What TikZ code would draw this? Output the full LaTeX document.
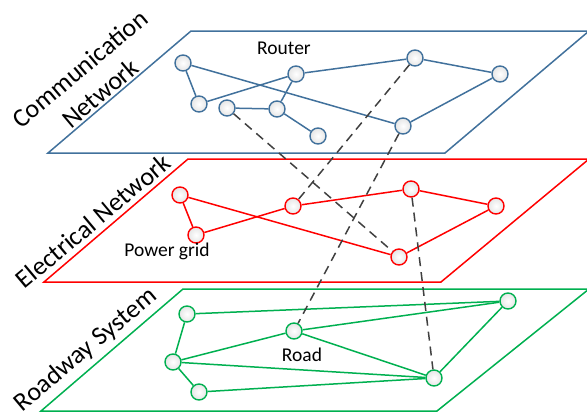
\documentclass[tikz,border=0pt]{standalone}
\usepackage{fontspec}
\setmainfont{Carlito}
\begin{document}
\begin{tikzpicture}[x=1pt,y=-1pt,
  plane/.style={line width=1.5pt},
  vtx/.style={circle,draw,line width=1.4pt,minimum size=16pt,inner sep=0pt,
    inner color=white,outer color=black!10},
  link/.style={line width=1.5pt},
  xlink/.style={draw=black!75,line width=1.5pt,dash pattern=on 9pt off 6pt},
  lbl/.style={font=\fontsize{19.5}{22}\selectfont,inner sep=0pt},
  layerlbl/.style={font=\fontsize{26}{32}\selectfont,rotate=40,align=center,inner sep=0pt}]
\definecolor{cblue}{HTML}{41719C}
\definecolor{cred}{HTML}{FF0000}
\definecolor{cgreen}{HTML}{00B050}
\useasboundingbox (0,0) rectangle (587,413);
\clip (0,0) rectangle (587,413);

% layer planes
\draw[plane,cblue]  (48,153) -- (445,153) -- (589,31) -- (191,31) -- cycle;
\draw[plane,cred]   (44,282) -- (441,282) -- (589,159) -- (188,159) -- cycle;
\draw[plane,cgreen] (41,411) -- (437,411) -- (589,289) -- (183,289) -- cycle;

% layer titles
\node[layerlbl] (tcomm) at (90,81) {Communication\\Network};
\node[layerlbl] (telec) at (93,221) {Electrical Network};
\node[layerlbl] (troad) at (86,350) {Roadway System};

% communication network
\begin{scope}[every node/.style={vtx,draw=cblue}]
\node (b1) at (183,63) {};
\node (b2) at (199,104) {};
\node (b3) at (227,108) {};
\node (b4) at (277,109) {};
\node (b5) at (296,74) {};
\node (b6) at (415,58) {};
\node (b7) at (500,74) {};
\node (b8) at (403,126) {};
\node (b9) at (318,136) {};
\end{scope}
\begin{scope}[link,cblue]
\draw (b1) -- (b2);
\draw (b1) -- (b8);
\draw (b2) -- (b5);
\draw (b3) -- (b4);
\draw (b4) -- (b5);
\draw (b4) -- (b9);
\draw (b5) -- (b6);
\draw (b6) -- (b7);
\draw (b7) -- (b8);
\end{scope}
\node[lbl] (router) at (284,48) {Router};

% electrical network
\begin{scope}[every node/.style={vtx,draw=cred}]
\node (r1) at (180,195) {};
\node (r2) at (196,235) {};
\node (r3) at (293,206) {};
\node (r4) at (411,189) {};
\node (r5) at (496,206) {};
\node (r6) at (399,257) {};
\end{scope}
\begin{scope}[link,cred]
\draw (r1) -- (r2);
\draw (r2) -- (r3);
\draw (r3) -- (r4);
\draw (r4) -- (r5);
\draw (r5) -- (r6);
\draw (r1) -- (r6);
\end{scope}
\node[lbl] (pgrid) at (167,251) {Power grid};

% roadway system
\begin{scope}[every node/.style={vtx,draw=cgreen}]
\node (g1) at (187,314) {};
\node (g2) at (173,362) {};
\node (g3) at (199,392) {};
\node (g4) at (294,331) {};
\node (g5) at (508,301) {};
\node (g6) at (434,378) {};
\end{scope}
\begin{scope}[link,cgreen]
\draw (g1) -- (g2);
\draw (g2) -- (g3);
\draw (g1) -- (g5);
\draw (g2) -- (g4);
\draw (g4) -- (g5);
\draw (g4) -- (g6);
\draw (g2) -- (g6);
\draw (g3) -- (g6);
\draw (g5) -- (g6);
\end{scope}
\node[lbl] (road) at (302,355) {Road};

% cross-layer dependencies
\draw[xlink] (b3) -- (r6);
\draw[xlink] (b6) -- (r3);
\draw[xlink] (b8) -- (g4);
\draw[xlink] (r4) -- (g6);
\end{tikzpicture}
\end{document}
